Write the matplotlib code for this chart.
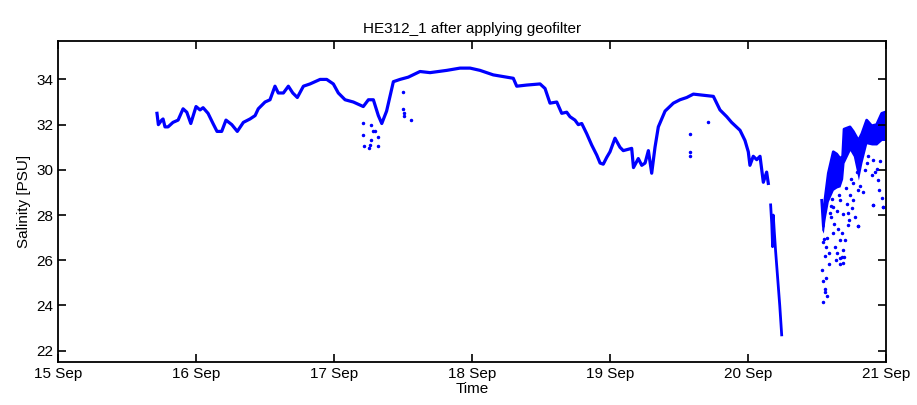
import numpy as np
import matplotlib
matplotlib.use('Agg')
import matplotlib.pyplot as plt

plt.rcParams['font.family'] = ['Liberation Sans', 'DejaVu Sans']

# time in days of September, salinity in PSU
t_main = [15.717, 15.727, 15.751, 15.761, 15.775, 15.797, 15.833, 15.870, 15.906, 15.933,
          15.962, 16.000, 16.029, 16.051, 16.087, 16.123, 16.152, 16.186, 16.217, 16.259,
          16.299, 16.343, 16.391, 16.428, 16.451, 16.500, 16.536, 16.572, 16.596, 16.633,
          16.669, 16.701, 16.734, 16.778, 16.826, 16.899, 16.947, 16.995, 17.031, 17.080,
          17.140, 17.212, 17.249, 17.285, 17.321, 17.346, 17.381, 17.430, 17.478, 17.538,
          17.623, 17.696, 17.817, 17.913, 17.986, 18.058, 18.154, 18.251, 18.299, 18.324,
          18.396, 18.493, 18.529, 18.565, 18.614, 18.650, 18.686, 18.710, 18.746, 18.770,
          18.795, 18.831, 18.867, 18.904, 18.928, 18.951, 18.976, 19.000, 19.036, 19.072,
          19.096, 19.157, 19.170, 19.205, 19.230, 19.254, 19.278, 19.302, 19.326, 19.350,
          19.399, 19.459, 19.507, 19.556, 19.604, 19.676, 19.749, 19.773, 19.797, 19.846,
          19.881, 19.942, 19.978, 20.002, 20.014, 20.038, 20.063, 20.087, 20.111, 20.135,
          20.147]
s_main = [32.50, 32.00, 32.20, 32.25, 31.90, 31.90, 32.10, 32.20, 32.70, 32.55,
          32.05, 32.80, 32.65, 32.75, 32.50, 32.05, 31.70, 31.70, 32.20, 32.00,
          31.70, 32.10, 32.25, 32.40, 32.70, 33.00, 33.10, 33.70, 33.40, 33.40,
          33.70, 33.40, 33.20, 33.70, 33.80, 34.00, 34.00, 33.80, 33.40, 33.10,
          33.00, 32.80, 33.10, 33.10, 32.40, 32.05, 32.60, 33.90, 34.00, 34.10,
          34.35, 34.30, 34.40, 34.50, 34.50, 34.40, 34.20, 34.10, 34.05, 33.70,
          33.75, 33.80, 33.60, 32.95, 33.00, 32.50, 32.55, 32.35, 32.20, 32.00,
          32.05, 31.60, 31.10, 30.65, 30.30, 30.25, 30.55, 30.80, 31.40, 31.00,
          30.85, 30.95, 30.10, 30.50, 30.20, 30.30, 30.85, 29.85, 31.00, 31.90,
          32.60, 32.95, 33.10, 33.20, 33.35, 33.30, 33.25, 32.95, 32.65, 32.35,
          32.10, 31.75, 31.30, 30.80, 30.20, 30.60, 30.45, 30.60, 29.45, 29.90,
          29.40]

t_drop = [20.164, 20.172, 20.178, 20.183, 20.190, 20.200, 20.215, 20.230, 20.244]
s_drop = [28.45, 27.60, 26.60, 28.00, 27.30, 26.40, 25.20, 24.00, 22.70]

t_end = [20.534, 20.546, 20.558, 20.582, 20.618, 20.643, 20.667, 20.686, 20.696, 20.739,
         20.763, 20.800, 20.825, 20.860, 20.896, 20.932, 20.969, 20.993]
s_end_top = [28.65, 27.50, 28.70, 29.85, 30.80, 30.70, 30.50, 30.60, 31.80, 31.90,
             31.70, 31.30, 31.60, 32.20, 31.95, 32.00, 32.50, 32.55]
s_end_low = [27.35, 27.20, 27.80, 28.60, 29.10, 29.20, 29.25, 29.60, 30.30, 30.85,
             30.60, 29.55, 30.30, 31.15, 31.10, 31.10, 31.30, 31.30]

# isolated readings
t_dots = [17.212, 17.212, 17.217, 17.253, 17.260, 17.269, 17.281, 17.300, 17.317, 17.317,
          17.265, 17.502, 17.507, 17.507, 17.556, 17.499,
          19.580, 19.580, 19.580, 19.713,
          20.534, 20.546, 20.565, 20.556, 20.558, 20.546, 20.570, 20.551, 20.565, 20.589,
          20.584, 20.618, 20.630, 20.643, 20.638, 20.667, 20.679, 20.698, 20.691, 20.667,
          20.703, 20.727, 20.735, 20.800, 20.775, 20.763, 20.604, 20.618, 20.643, 20.667,
          20.691, 20.715, 20.739, 20.800, 20.763, 20.836, 20.896, 20.944, 20.952, 20.903,
          20.969, 20.981, 20.932, 20.908, 20.860, 20.908, 20.981, 20.800, 20.691, 20.667,
          20.594, 20.610, 20.625, 20.652, 20.660, 20.683, 20.710, 20.722, 20.748, 20.757,
          20.787, 20.815, 20.848, 20.872, 20.920, 20.960, 20.540, 20.560, 20.575, 20.600]
s_dots = [32.05, 31.55, 31.05, 30.95, 31.10, 31.30, 31.70, 31.70, 31.45, 31.05,
          32.00, 32.70, 32.50, 32.40, 32.20, 33.45,
          31.60, 30.80, 30.60, 32.10,
          25.55, 25.10, 25.20, 24.60, 24.75, 24.15, 24.40, 26.95, 26.60, 26.30,
          25.85, 27.20, 26.60, 26.30, 26.00, 25.85, 26.15, 26.15, 26.45, 26.90,
          26.90, 27.55, 27.80, 27.50, 27.90, 28.65, 27.90, 28.35, 28.20, 28.65,
          28.05, 28.50, 28.90, 29.10, 29.40, 29.00, 29.75, 29.55, 29.10, 28.45,
          28.75, 28.35, 30.05, 30.45, 30.30, 28.45, 28.35, 27.50, 25.90, 26.10,
          28.10, 28.70, 27.60, 27.40, 28.90, 27.20, 29.20, 28.10, 29.60, 28.30,
          29.90, 29.30, 30.00, 30.60, 29.90, 30.40, 26.80, 26.20, 27.00, 28.40]

x_ticks = [15, 16, 17, 18, 19, 20, 21]
x_labels = ['15 Sep', '16 Sep', '17 Sep', '18 Sep', '19 Sep', '20 Sep', '21 Sep']
y_ticks = [22, 24, 26, 28, 30, 32, 34]

fig = plt.figure(figsize=(9.17, 4.05), dpi=100)
ax = fig.add_axes([0.0633, 0.1062, 0.9029, 0.7926])

blue = '#0000ff'
ax.plot(t_main, s_main, color=blue, linewidth=2.3, solid_joinstyle='round')
ax.plot(t_drop, s_drop, color=blue, linewidth=2.0)
ax.fill_between(t_end, s_end_low, s_end_top, color=blue, linewidth=0)
ax.plot(t_end, s_end_top, color=blue, linewidth=2.0)
ax.plot(t_dots, s_dots, linestyle='none', marker='.', markersize=3, color=blue)

ax.set_xlim(15, 21)
ax.set_ylim(21.5, 35.7)
ax.set_xticks(x_ticks)
ax.set_xticklabels(x_labels)
ax.set_yticks(y_ticks)
ax.tick_params(direction='in', top=True, right=True, length=5.5, width=1.2, labelsize=11)
for sp in ax.spines.values():
    sp.set_linewidth(1.3)

ax.set_title('HE312_1 after applying geofilter', fontsize=11)
ax.set_xlabel('Time', fontsize=11, labelpad=1)
ax.set_ylabel('Salinity [PSU]', fontsize=11)

fig.savefig('out.png', dpi=100)
